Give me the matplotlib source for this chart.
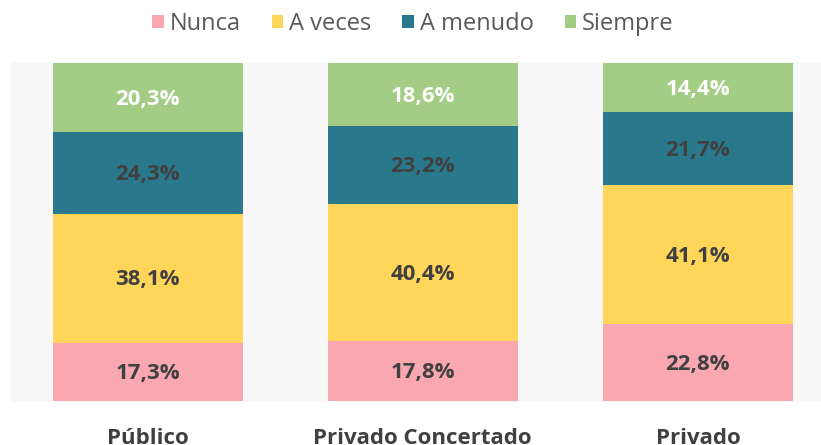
import matplotlib
matplotlib.use("Agg")
import matplotlib.pyplot as plt
from matplotlib.patches import Patch

categories = ["Público", "Privado Concertado", "Privado"]
series_names = ["Nunca", "A veces", "A menudo", "Siempre"]
nunca = [17.3, 17.8, 22.8]
a_veces = [38.1, 40.4, 41.1]
a_menudo = [24.3, 23.2, 21.7]
siempre = [20.3, 18.6, 14.4]
series = [nunca, a_veces, a_menudo, siempre]
colors = ["#F9A7B0", "#FFD55A", "#2A788B", "#A3CD84"]
label_colors = ["#404040", "#404040", "#404040", "#FFFFFF"]

plt.rcParams['font.family'] = ['Open Sans', 'DejaVu Sans']

fig = plt.figure(figsize=(8.21, 4.45), dpi=100)
W, H = 821, 445
ax = fig.add_axes([10 / W, (H - 402) / H, (835.5 - 10) / W, 340 / H])
ax.set_facecolor("#F8F8F8")
x = list(range(len(categories)))
bottom = [0.0] * len(categories)
for vals, col, lc in zip(series, colors, label_colors):
    ax.bar(x, vals, bottom=bottom, width=0.69, color=col, edgecolor="none")
    for xi, v, b in zip(x, vals, bottom):
        ax.text(xi, b + v / 2 - 0.5, f"{v:.1f}%".replace(".", ","), ha="center", va="center",
                fontsize=16, fontweight="bold", color=lc)
    bottom = [b + v for b, v in zip(bottom, vals)]

ax.set_xlim(-0.5, 2.5)
ax.set_ylim(-0.3, 100.3)
for s in ax.spines.values():
    s.set_visible(False)
ax.set_yticks([])
ax.set_xticks(x)
ax.set_xticklabels(categories, fontsize=16, fontweight="bold", color="#404040")
ax.tick_params(axis="x", length=0, pad=19)

handles = [Patch(facecolor=c, edgecolor="none") for c in colors]
fig.legend(handles, series_names, loc="center", bbox_to_anchor=(413 / W, 1 - 24 / H),
           ncol=4, frameon=False, fontsize=17, labelcolor="#595959",
           handlelength=0.5, handleheight=0.5, handletextpad=0.25, columnspacing=1.3)

fig.savefig("out.png", dpi=100, facecolor="white")
